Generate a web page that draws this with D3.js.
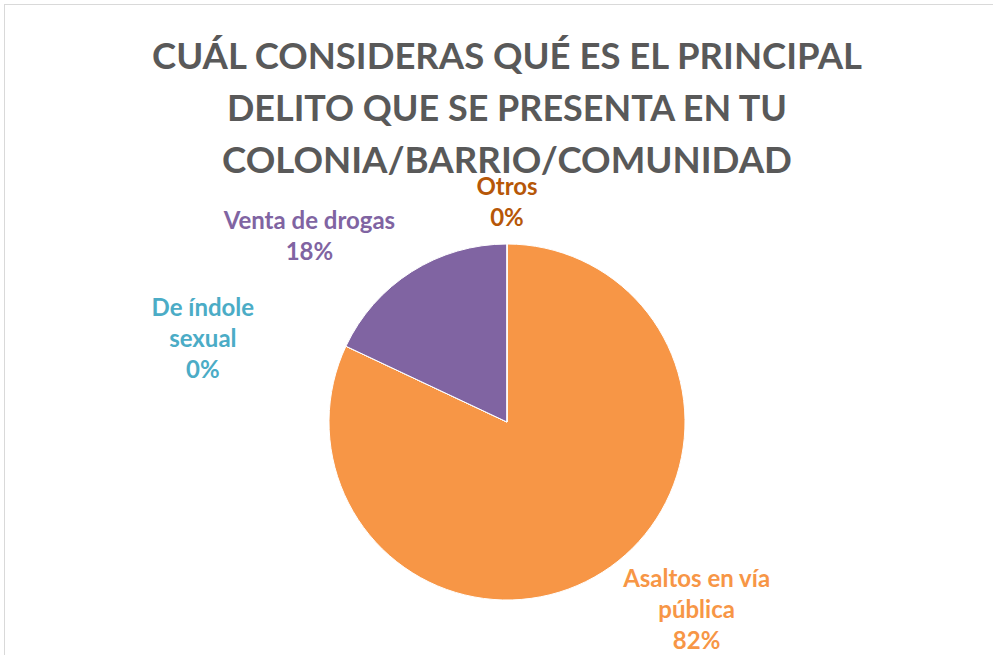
<!DOCTYPE html>
<html lang="es">
<head>
<meta charset="UTF-8">
<script src="https://d3js.org/d3.v7.min.js"></script>
<style>
  body { margin: 0; background: #fff; }
  text { font-family: Lato, "Open Sans", sans-serif; font-weight: bold; }
</style>
</head>
<body>
<script>
// Data
var categories = ["Asaltos en vía pública", "De índole sexual", "Venta de drogas", "Otros"];
var values = [82, 0, 18, 0];
var labelLines = [["Asaltos en vía", "pública"], ["De índole", "sexual"], ["Venta de drogas"], ["Otros"]];
var colors = ["#F79646", "#4BACC6", "#8064A2", "#B65708"];
var titleLines = ["CUÁL CONSIDERAS QUÉ ES EL PRINCIPAL", "DELITO QUE SE PRESENTA EN TU", "COLONIA/BARRIO/COMUNIDAD"];

var width = 993, height = 655;
var cx = 507, cy = 422, radius = 178;

var svg = d3.select("body").append("svg")
    .attr("width", width)
    .attr("height", height);

// chart area border (runs off the page to the right and bottom)
svg.append("rect")
    .attr("x", 4.5).attr("y", 4.5)
    .attr("width", 1100).attr("height", 800)
    .attr("fill", "#fff")
    .attr("stroke", "#d9d9d9");

// Title
var titleWidths = [710, 560, 570];
svg.append("g").selectAll("text")
    .data(titleLines)
    .enter().append("text")
    .attr("x", cx)
    .attr("y", function (d, i) { return 69 + i * 52; })
    .attr("text-anchor", "middle")
    .attr("fill", "#595959")
    .style("font-size", "37px")
    .attr("textLength", function (d, i) { return titleWidths[i]; })
    .attr("lengthAdjust", "spacingAndGlyphs")
    .text(function (d) { return d; });

// Pie
var pie = d3.pie().sort(null).value(function (d) { return d; });
var arcs = pie(values);
var arc = d3.arc().innerRadius(0).outerRadius(radius);
var labelArc = d3.arc().innerRadius(240).outerRadius(240);

var g = svg.append("g").attr("transform", "translate(" + cx + "," + cy + ")");

g.selectAll("path")
    .data(arcs)
    .enter().append("path")
    .attr("d", arc)
    .attr("fill", function (d, i) { return colors[i]; })
    .attr("stroke", "#fff")
    .attr("stroke-width", 1);

// label nudges relative to the outer label arc (layout, not data)
var labelShift = [[61, -15], [-87, 19], [-69, 17], [0, 20]];
var lineH = 31;

var labels = g.selectAll("g.lbl")
    .data(arcs)
    .enter().append("g")
    .attr("class", "lbl")
    .attr("transform", function (d, i) {
        var c = labelArc.centroid(d);
        return "translate(" + (c[0] + labelShift[i][0]) + "," + (c[1] + labelShift[i][1]) + ")";
    });

labels.each(function (d, i) {
    var lines = labelLines[i].concat([Math.round(d.data) + "%"]);
    var top = -(lines.length - 1) * lineH / 2;
    d3.select(this).selectAll("text")
        .data(lines)
        .enter().append("text")
        .attr("x", 0)
        .attr("y", function (t, j) { return top + j * lineH; })
        .attr("dy", "0.35em")
        .attr("text-anchor", "middle")
        .attr("fill", colors[i])
        .style("font-size", "24px")
        .text(function (t) { return t; });
});
</script>
</body>
</html>
